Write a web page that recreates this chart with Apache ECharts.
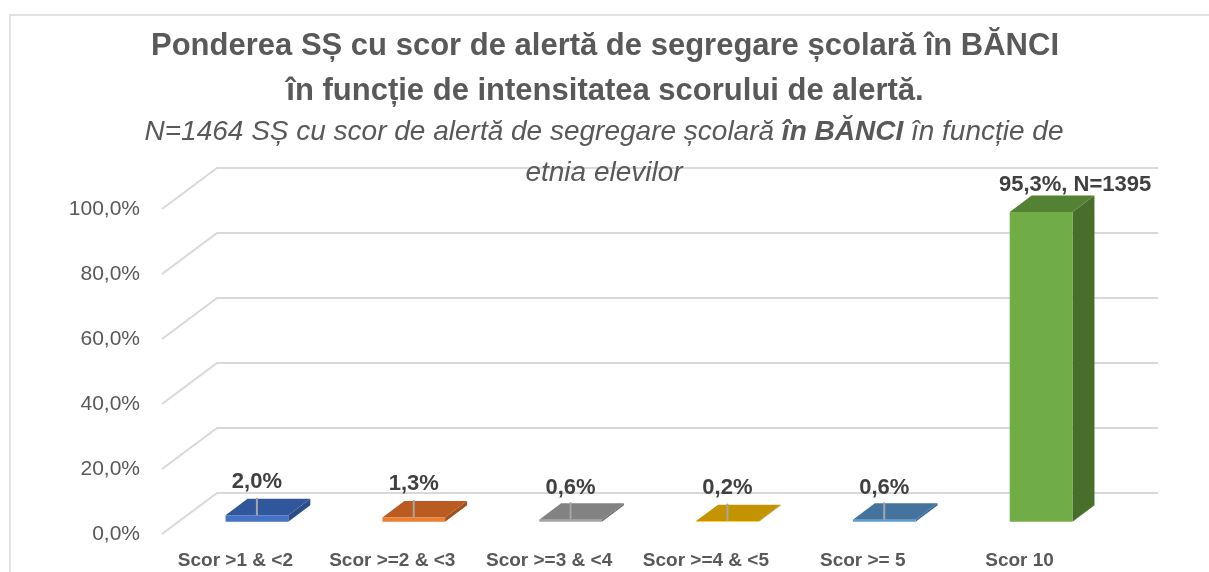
<!DOCTYPE html>
<html>
<head>
<meta charset="utf-8">
<script src="https://cdn.jsdelivr.net/npm/echarts@6/dist/echarts.min.js"></script>
<style>
html,body{margin:0;padding:0;background:#fff;}
#chart{width:1209px;height:572px;}
</style>
</head>
<body>
<div id="chart"></div>
<script>
// ---- data ----
const categories = ['Scor >1 & <2', 'Scor >=2 & <3', 'Scor >=3 & <4', 'Scor >=4 & <5', 'Scor >= 5', 'Scor 10'];
const values = [2.0, 1.3, 0.6, 0.2, 0.6, 95.3];
const valueLabels = ['2,0%', '1,3%', '0,6%', '0,2%', '0,6%', '95,3%, N=1395'];
const yTicks = [0, 20, 40, 60, 80, 100];
const yTickLabels = ['0,0%', '20,0%', '40,0%', '60,0%', '80,0%', '100,0%'];
const titleLines = ['Ponderea SȘ cu scor de alertă de segregare școlară în BĂNCI', 'în funcție de intensitatea scorului de alertă.'];
const subtitleParts = ['N=1464 SȘ cu scor de alertă de segregare școlară ', 'în BĂNCI', ' în funcție de'];
const subtitleLine2 = 'etnia elevilor';

// ---- styles ----
const FONT = 'Liberation Sans';
const DX = 55, DY = -41;          // depth projection of the floor
const D1 = 0.3, D2 = 0.7;         // bar depth span
const BAR_W = 0.4;                // fraction of band
const barColors = [
  {front: '#4472C4', top: '#30579C', side: '#2B4D88'},
  {front: '#ED7D31', top: '#BA5C22', side: '#A24F1C'},
  {front: '#A5A5A5', top: '#828282', side: '#6F6F6F'},
  {front: '#FFC000', top: '#C49300', side: '#A67C00'},
  {front: '#5B9BD5', top: '#44739E', side: '#3A6590'},
  {front: '#70AD47', top: '#548235', side: '#476E2B'}
];
const labelOffsets = [[0, -17], [0, -17], [0, -15], [0, -17], [0, -15], [34, -11]];

const chart = echarts.init(document.getElementById('chart'), null, {renderer: 'canvas'});

function proj(api, ci, xShift, v, f) {
  const p = api.coord([ci, v]);
  return [p[0] + xShift + f * DX, p[1] + f * DY];
}

const option = {
  animation: false,
  backgroundColor: '#fff',
  grid: {left: 162, top: 209, width: 941, height: 325, containLabel: false},
  xAxis: {
    type: 'category', data: categories,
    axisLine: {show: false}, axisTick: {show: false}, splitLine: {show: false},
    axisLabel: {margin: 17, color: '#595959', fontSize: 19, fontWeight: 'bold', fontFamily: FONT, interval: 0,
      padding: [0, 10, 0, 0]}
  },
  yAxis: {
    type: 'value', min: 0, max: 100, interval: 20,
    axisLine: {show: false}, axisTick: {show: false}, splitLine: {show: false},
    axisLabel: {margin: 22, color: '#595959', fontSize: 21, fontFamily: FONT,
      formatter: function (v) { return yTickLabels[yTicks.indexOf(v)]; }}
  },
  graphic: [
    {type: 'rect', shape: {x: 10, y: 15, width: 1230, height: 600}, style: {fill: 'none', stroke: '#d9d9d9', lineWidth: 1.5}, silent: true},
    {type: 'text', x: 605, y: 46, style: {text: titleLines[0], textAlign: 'center', textVerticalAlign: 'middle', fill: '#595959', font: 'bold 31px "' + FONT + '"'}},
    {type: 'text', x: 605, y: 91, style: {text: titleLines[1], textAlign: 'center', textVerticalAlign: 'middle', fill: '#595959', font: 'bold 31px "' + FONT + '"'}},
    {type: 'text', x: 604, y: 132, style: {
      text: '{i|' + subtitleParts[0] + '}{b|' + subtitleParts[1] + '}{i|' + subtitleParts[2] + '}',
      textAlign: 'center', textVerticalAlign: 'middle',
      rich: {
        i: {fontStyle: 'italic', fontSize: 28, fontFamily: FONT, fill: '#595959', color: '#595959'},
        b: {fontStyle: 'italic', fontWeight: 'bold', fontSize: 28, fontFamily: FONT, fill: '#595959', color: '#595959'}
      }}},
    {type: 'text', x: 604, y: 173, z: 10, style: {text: subtitleLine2, textAlign: 'center', textVerticalAlign: 'middle', fill: '#595959', font: 'italic 28px "' + FONT + '"'}}
  ],
  series: [
    {
      // 3D gridlines: diagonal on the side wall + horizontal on the back wall
      type: 'custom', z: 1, silent: true,
      data: yTicks.map(function (t) { return [0, t]; }),
      renderItem: function (params, api) {
        const t = api.value(1);
        const bw = api.size([1, 0])[0];
        const p0 = proj(api, 0, -bw / 2, t, 0);
        const p1 = proj(api, 0, -bw / 2, t, 1);
        const p2 = proj(api, categories.length - 1, bw / 2, t, 1);
        return {type: 'polyline', shape: {points: [p0, p1, p2]}, style: {stroke: '#d9d9d9', lineWidth: 2, fill: 'none'}};
      }
    },
    {
      type: 'custom', z: 3, silent: true,
      data: values.map(function (v, i) { return [i, v]; }),
      renderItem: function (params, api) {
        const i = api.value(0), v = api.value(1);
        const bw = api.size([1, 0])[0];
        const hw = bw * BAR_W / 2;
        const c = barColors[i];
        const fl0 = proj(api, i, -hw, 0, D1), fr0 = proj(api, i, hw, 0, D1);
        const fl1 = proj(api, i, -hw, v, D1), fr1 = proj(api, i, hw, v, D1);
        const bl1 = proj(api, i, -hw, v, D2), br1 = proj(api, i, hw, v, D2);
        const br0 = proj(api, i, hw, 0, D2);
        const fc1 = proj(api, i, 0, v, D1), bc1 = proj(api, i, 0, v, D2);
        const children = [
          {type: 'polygon', shape: {points: [fr0, fr1, br1, br0]}, style: {fill: c.side}},
          {type: 'polygon', shape: {points: [fl1, fr1, br1, bl1]}, style: {fill: c.top}},
          {type: 'polygon', shape: {points: [fl0, fr0, fr1, fl1]}, style: {fill: c.front}}
        ];
        if (v < 10) {
          children.push({type: 'line', shape: {x1: fc1[0], y1: fc1[1], x2: fc1[0], y2: bc1[1] - 1}, style: {stroke: '#a6a6a6', lineWidth: 2}});
        }
        const off = labelOffsets[i];
        children.push({type: 'text', x: fc1[0] + off[0], y: bc1[1] + off[1], style: {
          text: valueLabels[i], textAlign: 'center', textVerticalAlign: 'middle',
          fill: '#404040', font: 'bold 22px "' + FONT + '"'}});
        return {type: 'group', children: children};
      }
    }
  ]
};
chart.setOption(option);
</script>
</body>
</html>
